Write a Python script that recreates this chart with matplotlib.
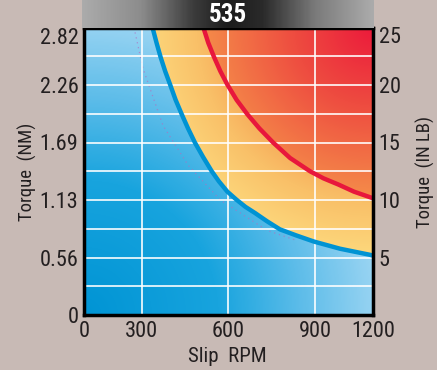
import numpy as np
import matplotlib.pyplot as plt
from matplotlib.colors import LinearSegmentedColormap
from matplotlib.patches import Polygon
from matplotlib import font_manager

# ---- datos ----
titulo = '535'
# curva azul (rpm, N-m)
rpm_blue = [337, 351, 365, 381, 398, 417, 438, 460, 484, 512, 542, 567, 596, 628,
            659, 692, 733, 778, 835, 896, 986, 1090, 1100]
tq_blue = [2.82, 2.67, 2.53, 2.39, 2.26, 2.11, 1.97, 1.83, 1.69, 1.55, 1.41, 1.31, 1.21, 1.13,
           1.06, 1.00, 0.92, 0.84, 0.78, 0.72, 0.65, 0.59, 0.583]
# curva roja (rpm, N-m)
rpm_red = [513, 530, 550, 572, 596, 628, 665, 707, 755, 813, 882, 929, 980, 1034, 1090, 1100]
tq_red = [2.82, 2.67, 2.53, 2.39, 2.26, 2.11, 1.97, 1.83, 1.69, 1.54, 1.41, 1.34, 1.28, 1.21,
          1.155, 1.145]
# linea punteada tenue
rpm_dot = [273, 304, 373, 460, 571, 733, 837]
tq_dot = [2.82, 2.42, 1.86, 1.47, 1.13, 0.83, 0.73]

x_ticks = [100, 300, 600, 900, 1100]
x_labels = ['0', '300', '600', '900', '1200']
nm_ticks = [0, 0.564, 1.128, 1.692, 2.256, 2.82]
nm_labels = ['0', '0.56', '1.13', '1.69', '2.26', '2.82']
nm_minor = [0.282, 0.846, 1.41, 1.974, 2.538]
lb_ticks = [5, 10, 15, 20, 25]


def fuente_angosta(bold=False):
    """Busca una fuente condensada instalada; devuelve la ruta o None"""
    prefer = ['liberationsansnarrow', 'robotocondensed', 'notosans-condensed',
              'opensans-cond', 'dejavusanscondensed', 'condensed', 'narrow']
    mejor, puntos = None, 99
    for f in font_manager.fontManager.ttflist:
        nom = f.fname.lower().split('/')[-1].replace('_', '')
        if 'italic' in nom or 'oblique' in nom or 'extra' in nom or 'semi' in nom:
            continue
        es_bold = 'bold' in nom and 'semibold' not in nom
        if es_bold != bold:
            continue
        if not bold and any(w in nom for w in ['light', 'thin', 'medium', 'black']):
            continue
        for i, p in enumerate(prefer):
            if p in nom and i < puntos:
                mejor, puntos = f.fname, i
    return mejor


ruta = fuente_angosta()
ruta_b = fuente_angosta(bold=True)
if ruta:
    fp = lambda s: font_manager.FontProperties(fname=ruta, size=s)
    esc = 1.0
else:
    fp = lambda s: font_manager.FontProperties(family='DejaVu Sans', size=s)
    esc = 0.8
fpb = (font_manager.FontProperties(fname=ruta_b, size=18) if ruta_b
       else font_manager.FontProperties(family='DejaVu Sans', weight='bold', size=16))

txt = '#231f20'
fondo = '#c8bab5'

fig = plt.figure(figsize=(4.37, 3.70), dpi=100, facecolor=fondo)
ax = fig.add_axes([84/437, 55/370, 289/437, 287.5/370])
ax.set_xlim(100, 1100)
ax.set_ylim(0, 2.82)
ext = (100, 1100, 0, 2.82)

# ---- gradientes de fondo (en pixeles del eje) ----
W, H = 289, 288
xx, yy = np.meshgrid(np.arange(W) + 0.5, np.arange(H) + 0.5)
d_tr = np.hypot(W - xx, yy)          # distancia a la esquina sup. derecha
d_bl = np.hypot(xx, H - yy)          # distancia a la esquina inf. izquierda

cm_blue = LinearSegmentedColormap.from_list('azul', [(0, '#0094d4'), (0.45, '#18a4de'),
                                                     (0.72, '#5cbce9'), (1, '#9ed6f3')])
cm_mid = LinearSegmentedColormap.from_list('medio', [(0, '#f6a657'), (0.4, '#f9c068'),
                                                     (1, '#fdd97d')])
cm_top = LinearSegmentedColormap.from_list('rojo', [(0, '#ec1a3b'), (0.45, '#ee4c40'),
                                                    (1, '#f58f4a')])

im_b = ax.imshow(np.clip(d_bl / 300, 0, 1), cmap=cm_blue, vmin=0, vmax=1,
                 extent=ext, aspect='auto', origin='upper', zorder=0)
im_m = ax.imshow(np.clip((d_tr - 140) / 90, 0, 1), cmap=cm_mid, vmin=0, vmax=1,
                 extent=ext, aspect='auto', origin='upper', zorder=0.1)
im_r = ax.imshow(np.clip(d_tr / 175, 0, 1), cmap=cm_top, vmin=0, vmax=1,
                 extent=ext, aspect='auto', origin='upper', zorder=0.2)

azul = list(zip(rpm_blue, tq_blue))
roja = list(zip(rpm_red, tq_red))
p_b = Polygon([(100, 0), (100, 2.82)] + azul + [(1100, 0)], transform=ax.transData)
p_m = Polygon(azul + [(1100, 2.82)], transform=ax.transData)
p_r = Polygon(roja + [(1100, 2.82)], transform=ax.transData)
im_b.set_clip_path(p_b)
im_m.set_clip_path(p_m)
im_r.set_clip_path(p_r)

# ---- grilla ----
ax.set_xticks(x_ticks)
ax.set_xticklabels(x_labels)
ax.set_yticks(nm_ticks)
ax.set_yticklabels(nm_labels)
ax.set_yticks(nm_minor, minor=True)
ax.set_axisbelow(False)
ax.grid(True, which='both', color='white', lw=1.3, alpha=0.9)

# ---- curvas ----
ax.plot(rpm_dot, tq_dot, color='#b070c0', lw=0.9, ls=(0, (1, 3)), alpha=0.7, zorder=2)
ax.plot(rpm_blue, tq_blue, color='#0093d3', lw=3.2, solid_joinstyle='round', zorder=3)
ax.plot(rpm_red, tq_red, color='#e8173c', lw=3.2, solid_joinstyle='round', zorder=3)

for s in ax.spines.values():
    s.set_linewidth(2.5)
    s.set_color('black')
    s.set_zorder(5)
ax.tick_params(which='both', length=0, colors=txt, pad=4)
for lab in ax.get_xticklabels() + ax.get_yticklabels():
    lab.set_fontproperties(fp(16 * esc))
ax.yaxis.get_ticklabels()[-1].set_va('top')

# ---- eje derecho IN LB ----
ax2 = ax.twinx()
ax2.set_ylim(0, 25)
ax2.set_yticks(lb_ticks)
ax2.tick_params(length=0, colors=txt, pad=4)
for lab in ax2.get_yticklabels():
    lab.set_fontproperties(fp(16 * esc))
ax2.yaxis.get_ticklabels()[-1].set_va('top')
for s in ax2.spines.values():
    s.set_visible(False)

# ---- textos de ejes ----
fig.text(27/437, 1 - 172/370, 'Torque  (NM)', rotation=90, ha='center', va='center',
         fontproperties=fp(13.5 * esc), color=txt)
fig.text(425/437, 1 - 172/370, 'Torque  (IN LB)', rotation=90, ha='center', va='center',
         fontproperties=fp(13.5 * esc), color=txt)
fig.text(227/437, 1 - 357/370, 'Slip  RPM', ha='center', va='center',
         fontproperties=fp(15 * esc), color=txt)

# ---- barra de titulo ----
axt = fig.add_axes([82/437, 1 - 28/370, 292/437, 28/370])
cm_gris = LinearSegmentedColormap.from_list('gris', [(0, '#ababab'), (0.2, '#8c8c8c'),
                                                     (0.38, '#3c3c3c'), (0.5, '#1c1c1c'),
                                                     (0.62, '#2a2a2a'), (0.8, '#7a7a7a'),
                                                     (1, '#ababab')])
axt.imshow(np.linspace(0, 1, 300)[None, :], cmap=cm_gris, aspect='auto', extent=(0, 1, 0, 1))
axt.set_xlim(0, 1)
axt.set_ylim(0, 1)
axt.axis('off')
axt.text(0.5, 0.48, titulo, ha='center', va='center', color='white', fontproperties=fpb)

plt.savefig('out.png', dpi=100, facecolor=fondo)
